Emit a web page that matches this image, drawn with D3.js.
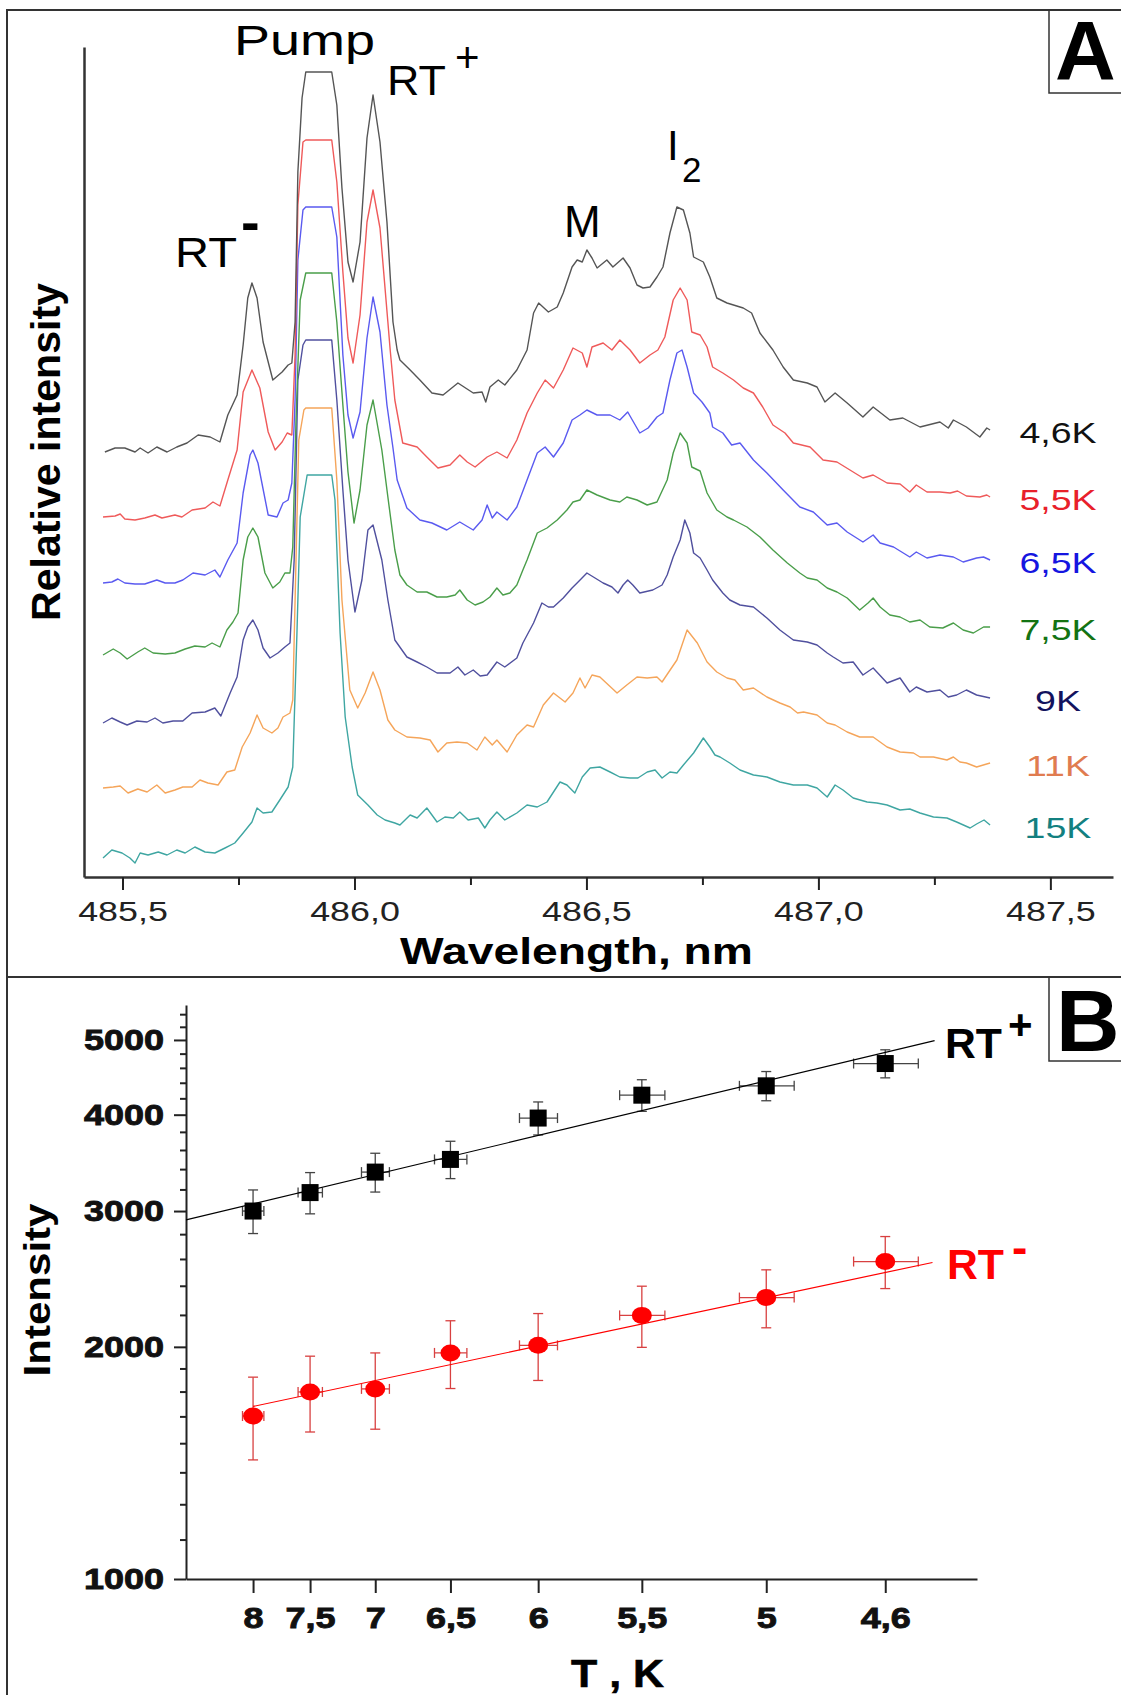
<!DOCTYPE html>
<html lang="en">
<head>
<meta charset="UTF-8">
<title>Raman spectra and RT intensity vs temperature</title>
<script src="https://d3js.org/d3.v7.min.js"></script>
<style>
  body { margin: 0; background: #fff; }
  svg text { font-family: "Liberation Sans", Arial, sans-serif; }
</style>
</head>
<body>
<svg id="fig" width="1121" height="1695"></svg>
<script>
// ---------- panel A: spectra, [wavelength nm, relative intensity a.u.] ----------
var spec46 = [[485.462,425],[485.484,429],[485.505,429],[485.527,425],[485.538,429],[485.555,424],[485.574,430],[485.596,425],[485.617,430],[485.639,434],[485.663,442],[485.689,440],[485.710,435],[485.727,462],[485.747,482],[485.760,532],[485.770,579],[485.779,594],[485.790,579],[485.803,535],[485.824,497],[485.844,505],[485.857,512],[485.865,514],[485.872,555],[485.878,705],[485.887,779],[485.895,805],[485.951,805],[485.962,772],[485.973,689],[485.986,615],[485.997,595],[486.012,635],[486.027,739],[486.040,782],[486.055,735],[486.070,655],[486.083,555],[486.092,527],[486.098,517],[486.120,507],[486.141,497],[486.167,484],[486.191,482],[486.223,494],[486.256,484],[486.275,485],[486.283,475],[486.292,490],[486.310,497],[486.324,492],[486.350,507],[486.372,527],[486.386,564],[486.397,574],[486.418,565],[486.437,570],[486.450,584],[486.469,610],[486.480,617],[486.491,615],[486.501,627],[486.512,619],[486.523,609],[486.544,617],[486.557,610],[486.579,619],[486.594,609],[486.609,592],[486.622,589],[486.637,590],[486.652,600],[486.665,610],[486.680,644],[486.695,670],[486.709,667],[486.723,644],[486.731,620],[486.752,615],[486.766,600],[486.781,579],[486.803,574],[486.838,569],[486.856,564],[486.874,544],[486.902,527],[486.924,510],[486.946,497],[486.976,494],[486.997,490],[487.014,475],[487.036,484],[487.062,474],[487.096,460],[487.118,470],[487.154,457],[487.182,459],[487.219,450],[487.262,455],[487.280,449],[487.291,457],[487.319,450],[487.348,440],[487.363,449],[487.370,447]];
var spec55 = [[485.458,360],[485.484,361],[485.495,363],[485.505,358],[485.527,357],[485.548,359],[485.570,362],[485.585,359],[485.613,362],[485.628,360],[485.650,367],[485.678,369],[485.695,375],[485.710,371],[485.727,397],[485.747,427],[485.760,485],[485.779,507],[485.796,489],[485.814,445],[485.829,427],[485.844,435],[485.855,444],[485.865,442],[485.872,522],[485.878,672],[485.889,735],[485.895,737],[485.951,737],[485.962,695],[485.975,605],[485.986,539],[485.997,514],[486.012,562],[486.027,655],[486.040,687],[486.055,649],[486.072,555],[486.077,527],[486.087,477],[486.104,434],[486.135,430],[486.156,420],[486.180,409],[486.206,412],[486.227,422],[486.243,415],[486.260,410],[486.286,420],[486.307,425],[486.329,419],[486.350,437],[486.372,464],[486.394,484],[486.411,497],[486.429,489],[486.450,507],[486.471,529],[486.491,524],[486.501,510],[486.512,530],[486.536,534],[486.555,527],[486.572,537],[486.594,527],[486.615,514],[486.637,522],[486.654,527],[486.669,540],[486.687,577],[486.702,589],[486.717,577],[486.727,545],[486.745,542],[486.760,530],[486.772,510],[486.794,504],[486.817,497],[486.838,489],[486.860,484],[486.880,470],[486.902,452],[486.928,444],[486.946,434],[486.982,430],[487.010,417],[487.040,415],[487.068,407],[487.096,399],[487.118,402],[487.148,394],[487.176,393],[487.197,385],[487.211,392],[487.234,385],[487.262,385],[487.284,384],[487.300,386],[487.319,381],[487.348,380],[487.363,382],[487.370,380]];
var spec65 = [[485.458,294],[485.477,295],[485.490,298],[485.505,294],[485.527,293],[485.548,293],[485.574,297],[485.592,294],[485.613,294],[485.630,297],[485.652,304],[485.678,302],[485.699,307],[485.710,300],[485.727,317],[485.747,334],[485.760,384],[485.775,422],[485.781,427],[485.792,414],[485.814,362],[485.833,360],[485.846,374],[485.857,377],[485.865,394],[485.872,477],[485.878,617],[485.889,667],[485.895,670],[485.951,670],[485.962,640],[485.975,522],[485.986,462],[485.997,439],[486.012,465],[486.027,539],[486.040,580],[486.055,545],[486.070,472],[486.083,429],[486.092,397],[486.113,369],[486.141,357],[486.167,354],[486.199,347],[486.227,355],[486.256,347],[486.275,357],[486.286,372],[486.297,359],[486.307,365],[486.329,357],[486.350,370],[486.372,397],[486.394,424],[486.411,430],[486.429,420],[486.450,434],[486.469,457],[486.486,462],[486.501,467],[486.523,462],[486.551,462],[486.572,457],[486.589,465],[486.615,444],[486.633,449],[486.652,460],[486.665,464],[486.680,497],[486.695,524],[486.706,527],[486.717,510],[486.731,484],[486.749,475],[486.766,464],[486.772,450],[486.794,444],[486.813,432],[486.831,434],[486.860,417],[486.889,404],[486.924,387],[486.960,370],[486.989,365],[487.019,352],[487.040,354],[487.062,345],[487.096,335],[487.118,342],[487.133,334],[487.162,330],[487.197,320],[487.211,325],[487.234,319],[487.262,322],[487.291,320],[487.312,315],[487.341,319],[487.356,320],[487.370,317]];
var spec75 = [[485.458,222],[485.480,228],[485.495,224],[485.510,218],[485.533,225],[485.548,229],[485.566,224],[485.592,223],[485.613,224],[485.635,228],[485.656,231],[485.678,230],[485.693,234],[485.710,230],[485.725,247],[485.738,255],[485.749,264],[485.760,317],[485.770,340],[485.781,349],[485.792,340],[485.807,304],[485.824,289],[485.839,295],[485.850,304],[485.861,304],[485.867,330],[485.874,457],[485.883,577],[485.895,604],[485.951,604],[485.962,555],[485.975,472],[485.986,405],[485.999,354],[486.012,387],[486.027,452],[486.040,477],[486.059,427],[486.072,380],[486.087,327],[486.098,302],[486.113,292],[486.135,285],[486.156,285],[486.178,280],[486.199,280],[486.217,282],[486.227,287],[486.243,277],[486.260,272],[486.277,275],[486.292,280],[486.307,289],[486.320,282],[486.335,284],[486.350,292],[486.363,307],[486.372,317],[486.394,344],[486.415,349],[486.437,357],[486.458,367],[486.471,375],[486.486,377],[486.501,387],[486.523,382],[486.551,377],[486.572,375],[486.587,380],[486.609,377],[486.631,372],[486.652,375],[486.674,397],[486.687,424],[486.702,444],[486.717,434],[486.727,410],[486.745,406],[486.760,384],[486.781,367],[486.803,360],[486.817,357],[486.846,350],[486.874,340],[486.902,327],[486.933,314],[486.960,304],[486.976,299],[486.997,297],[487.019,289],[487.040,285],[487.062,279],[487.089,267],[487.107,274],[487.118,279],[487.133,270],[487.154,262],[487.176,260],[487.197,255],[487.219,257],[487.240,250],[487.268,249],[487.291,254],[487.312,247],[487.334,244],[487.356,250],[487.370,250]];
var spec9 = [[485.458,154],[485.477,159],[485.495,155],[485.510,152],[485.531,156],[485.553,155],[485.570,159],[485.587,154],[485.609,156],[485.630,156],[485.650,164],[485.678,165],[485.699,169],[485.712,161],[485.732,184],[485.747,200],[485.760,237],[485.770,250],[485.781,257],[485.792,247],[485.803,229],[485.818,219],[485.835,224],[485.850,230],[485.861,234],[485.870,317],[485.878,497],[485.889,532],[485.895,537],[485.951,537],[485.962,477],[485.975,387],[485.986,317],[486.001,265],[486.016,297],[486.029,347],[486.040,352],[486.059,317],[486.072,277],[486.087,237],[486.113,220],[486.135,215],[486.156,210],[486.178,204],[486.206,204],[486.223,210],[486.238,202],[486.256,207],[486.271,201],[486.286,202],[486.307,215],[486.324,210],[486.350,219],[486.363,234],[486.386,254],[486.404,274],[486.418,270],[486.429,270],[486.450,279],[486.469,289],[486.482,295],[486.501,304],[486.515,300],[486.536,294],[486.555,290],[486.568,284],[486.579,292],[486.589,297],[486.600,292],[486.615,284],[486.643,287],[486.663,292],[486.674,302],[486.687,320],[486.702,337],[486.712,357],[486.723,344],[486.731,324],[486.745,319],[486.760,307],[486.772,297],[486.794,284],[486.809,277],[486.831,272],[486.860,270],[486.889,259],[486.917,247],[486.946,237],[486.976,235],[486.997,232],[487.019,224],[487.032,220],[487.053,214],[487.075,215],[487.096,202],[487.118,209],[487.148,194],[487.176,199],[487.197,185],[487.211,190],[487.234,185],[487.262,187],[487.280,180],[487.298,182],[487.319,187],[487.341,182],[487.370,179]];
var spec11 = [[485.458,89],[485.480,90],[485.495,91],[485.512,84],[485.533,88],[485.553,85],[485.574,92],[485.592,84],[485.613,87],[485.630,90],[485.650,90],[485.667,97],[485.684,94],[485.706,92],[485.725,105],[485.742,107],[485.758,130],[485.775,144],[485.790,162],[485.803,149],[485.822,144],[485.835,149],[485.846,160],[485.861,164],[485.867,177],[485.874,317],[485.880,437],[485.891,467],[485.895,469],[485.951,469],[485.962,397],[485.973,277],[485.990,187],[486.007,169],[486.023,184],[486.040,205],[486.055,187],[486.072,157],[486.087,147],[486.113,140],[486.141,139],[486.163,137],[486.180,125],[486.199,134],[486.221,135],[486.243,134],[486.264,127],[486.281,140],[486.297,132],[486.307,137],[486.329,125],[486.350,142],[486.372,152],[486.386,150],[486.407,172],[486.429,184],[486.454,175],[486.471,184],[486.486,199],[486.497,189],[486.512,202],[486.529,200],[486.566,184],[486.587,192],[486.609,200],[486.631,199],[486.652,200],[486.663,195],[486.676,204],[486.695,217],[486.717,247],[486.739,234],[486.760,215],[486.781,205],[486.803,199],[486.820,197],[486.838,187],[486.860,189],[486.889,180],[486.917,174],[486.939,170],[486.955,164],[486.968,165],[486.997,162],[487.019,154],[487.036,152],[487.062,145],[487.089,140],[487.118,140],[487.148,130],[487.176,125],[487.205,124],[487.219,120],[487.248,120],[487.277,117],[487.291,120],[487.305,115],[487.319,114],[487.341,110],[487.370,114]];
var spec15 = [[485.458,19],[485.477,27],[485.499,24],[485.516,19],[485.527,14],[485.538,24],[485.555,22],[485.577,25],[485.596,22],[485.617,27],[485.635,24],[485.656,30],[485.678,25],[485.699,24],[485.721,29],[485.742,34],[485.760,44],[485.779,55],[485.790,69],[485.803,64],[485.822,65],[485.839,77],[485.857,90],[485.867,110],[485.876,244],[485.883,360],[485.898,402],[485.951,402],[485.958,377],[485.969,244],[485.980,160],[485.995,110],[486.007,82],[486.029,72],[486.049,62],[486.066,57],[486.087,54],[486.098,52],[486.120,62],[486.135,59],[486.156,69],[486.178,55],[486.195,60],[486.213,59],[486.227,65],[486.245,57],[486.267,59],[486.281,49],[486.292,57],[486.307,65],[486.324,57],[486.350,64],[486.372,72],[486.394,70],[486.415,75],[486.443,95],[486.458,92],[486.475,84],[486.491,100],[486.508,109],[486.529,110],[486.551,105],[486.572,100],[486.594,99],[486.611,99],[486.631,105],[486.648,107],[486.663,99],[486.680,105],[486.695,104],[486.709,112],[486.731,124],[486.752,139],[486.766,130],[486.777,122],[486.788,120],[486.809,114],[486.831,107],[486.860,102],[486.889,100],[486.917,95],[486.946,92],[486.976,92],[486.997,89],[487.019,80],[487.036,92],[487.053,87],[487.075,79],[487.105,75],[487.126,74],[487.148,72],[487.176,67],[487.197,68],[487.219,64],[487.248,60],[487.277,59],[487.298,55],[487.327,49],[487.341,53],[487.357,57],[487.370,52]];

var spectra = [spec46, spec55, spec65, spec75, spec9, spec11, spec15];
var specLabels = ["4,6K", "5,5K", "6,5K", "7,5K", "9K", "11K", "15K"];
var lineColors = ["#555555", "#ef5a5a", "#5a5af0", "#4a9e4a", "#50509e", "#f5a55a", "#3fa6a2"];
var labelColors = ["#111111", "#e8202a", "#1515e0", "#137313", "#13135e", "#e07c50", "#138080"];
var wlTicks = [485.5, 486.0, 486.5, 487.0, 487.5];
var wlMinor = [485.75, 486.25, 486.75, 487.25];

// ---------- panel B: RT intensities vs temperature ----------
var temps = [8, 7.5, 7, 6.5, 6, 5.5, 5, 4.6];
var tErr = [0.1, 0.1, 0.1, 0.1, 0.1, 0.1, 0.1, 0.1];
var rtPlus = [3000, 3170, 3370, 3500, 3960, 4240, 4360, 4660];
var rtPlusErr = [195, 195, 195, 195, 195, 200, 190, 195];
var rtMinus = [1627, 1748, 1764, 1964, 2009, 2197, 2317, 2580];
var rtMinusErr = [200, 197, 200, 198, 200, 200, 200, 200];
// fitted lines, [1/T, intensity] end points
var fitPlus = [[0.1152, 2922], [0.2246, 4991]];
var fitMinus = [[0.125, 1674], [0.2243, 2573]];
var intTicks = [1000, 2000, 3000, 4000, 5000];

var svg = d3.select("#fig");

function stretch(sel, k) {
  sel.each(function () {
    var w = this.getComputedTextLength();
    d3.select(this).attr("textLength", w * k).attr("lengthAdjust", "spacingAndGlyphs");
  });
}
function txt(x, y, s, size, opts) {
  opts = opts || {};
  var t = svg.append("text").attr("x", x).attr("y", y).text(s)
    .attr("font-size", size)
    .attr("font-weight", opts.bold ? "bold" : "normal")
    .attr("fill", opts.color || "#000")
    .attr("text-anchor", opts.anchor || "start");
  if (opts.rotate) t.attr("transform", "rotate(-90," + x + "," + y + ")");
  if (opts.len) t.attr("textLength", opts.len).attr("lengthAdjust", "spacingAndGlyphs");
  if (opts.heavy) t.attr("stroke", opts.color || "#000").attr("stroke-width", opts.heavy);
  return t;
}

// frame, divider and panel letter boxes
svg.append("rect").attr("x", 7).attr("y", 10).attr("width", 1130).attr("height", 1700)
  .attr("fill", "none").attr("stroke", "#333").attr("stroke-width", 2);
svg.append("line").attr("x1", 7).attr("x2", 1121).attr("y1", 977).attr("y2", 977)
  .attr("stroke", "#333").attr("stroke-width", 2);
svg.append("rect").attr("x", 1049).attr("y", 10).attr("width", 90).attr("height", 83)
  .attr("fill", "none").attr("stroke", "#333").attr("stroke-width", 1.5);
svg.append("rect").attr("x", 1049).attr("y", 977).attr("width", 90).attr("height", 84)
  .attr("fill", "none").attr("stroke", "#333").attr("stroke-width", 1.5);
txt(1055, 80, "A", 84, { bold: true });
txt(1056, 1051, "B", 88, { bold: true });

// ---------- panel A ----------
var xA = d3.scaleLinear().domain([485.417, 487.635]).range([84, 1113]);
var yA = d3.scaleLinear().domain([0, 830]).range([877, 47]);

var axA = svg.append("g").attr("transform", "translate(0,877)")
  .call(d3.axisBottom(xA).tickValues(wlTicks).tickSize(13).tickSizeOuter(0).tickPadding(11)
    .tickFormat(function (d) { return d3.format(".1f")(d).replace(".", ","); }));
svg.append("g").attr("transform", "translate(0,877)")
  .call(d3.axisBottom(xA).tickValues(wlMinor).tickSize(8).tickFormat(""))
  .select(".domain").remove();
var ayA = svg.append("g").attr("transform", "translate(84,0)")
  .call(d3.axisLeft(yA).tickValues([]).tickSizeOuter(0));
svg.selectAll(".domain").attr("stroke", "#333").attr("stroke-width", 2.5);
svg.selectAll(".tick line").attr("stroke", "#333").attr("stroke-width", 2.2);
axA.selectAll("text").attr("font-size", 28).attr("fill", "#222")
  .attr("font-family", '"Liberation Sans", Arial, sans-serif').call(stretch, 1.28);

var lineA = d3.line().x(function (d) { return xA(d[0]); }).y(function (d) { return yA(d[1]); });
var gA = svg.append("g");
for (var i = spectra.length - 1; i >= 0; i--) {
  gA.append("path").datum(spectra[i]).attr("d", lineA)
    .attr("fill", "none").attr("stroke", lineColors[i]).attr("stroke-width", 1.4)
    .attr("stroke-linejoin", "round");
}
gA.selectAll("text.lab").data(spectra).join("text").attr("class", "lab")
  .attr("x", 1058)
  .attr("y", function (d) { return yA(d[d.length - 1][1]) + 13; })
  .attr("text-anchor", "middle").attr("font-size", 30)
  .attr("fill", function (d, i) { return labelColors[i]; })
  .text(function (d, i) { return specLabels[i]; })
  .call(stretch, 1.25);

txt(234, 55, "Pump", 42, { len: 141 });
txt(387, 95, "RT", 42, { len: 59 });
txt(455, 72, "+", 42);
txt(175, 267, "RT", 42, { len: 62 });
txt(241, 241, "-", 56, { bold: true });
txt(564, 237, "M", 44);
txt(667, 160, "I", 42);
txt(682, 182, "2", 35);
txt(400, 964, "Wavelength, nm", 37, { bold: true, len: 353 });
txt(60, 452, "Relative intensity", 41, { bold: true, anchor: "middle", rotate: true, len: 338 });

// ---------- panel B ----------
var xB = d3.scaleLinear().domain([0.1152, 0.2308]).range([186, 977]);
var yB = d3.scaleLog().domain([1000, 5550]).range([1579, 1005]);
var intMinor = d3.range(1125, 2000, 125).concat(d3.range(2200, 3000, 200),
  d3.range(3200, 4000, 200), d3.range(4200, 5000, 200), d3.range(5200, 5550, 200));

var axB = svg.append("g").attr("transform", "translate(0,1579)")
  .call(d3.axisBottom(xB).tickValues(temps.map(function (t) { return 1 / t; }))
    .tickSize(14).tickSizeOuter(0).tickPadding(14)
    .tickFormat(function (d) { return String(+(1 / d).toFixed(1)).replace(".", ","); }));
var ayB = svg.append("g").attr("transform", "translate(186,0)")
  .call(d3.axisLeft(yB).tickValues(intTicks).tickSize(12).tickSizeOuter(0).tickPadding(10)
    .tickFormat(d3.format("d")));
svg.append("g").attr("transform", "translate(186,0)")
  .call(d3.axisLeft(yB).tickValues(intMinor).tickSize(6).tickFormat(""))
  .select(".domain").remove();
[axB, ayB].forEach(function (a) {
  a.select(".domain").attr("stroke", "#222").attr("stroke-width", 2);
  a.selectAll("text").attr("font-size", 30).attr("font-weight", "bold").attr("fill", "#111")
    .attr("stroke", "#111").attr("stroke-width", 0.9)
    .attr("font-family", '"Liberation Sans", Arial, sans-serif').call(stretch, 1.2);
});
svg.selectAll(".tick line").attr("stroke", "#222").attr("stroke-width", 2);

function drawRT(vals, errs, fit, color, barColor, square) {
  var g = svg.append("g");
  var pts = temps.map(function (t, i) {
    return { x: xB(1 / t), y: yB(vals[i]), lo: yB(vals[i] - errs[i]), hi: yB(vals[i] + errs[i]),
      left: xB(1 / (t + tErr[i])), right: xB(1 / (t - tErr[i])) };
  });
  var segs = [];
  pts.forEach(function (p) {
    segs.push([p.x, p.lo, p.x, p.hi], [p.x - 5, p.lo, p.x + 5, p.lo], [p.x - 5, p.hi, p.x + 5, p.hi],
      [p.left, p.y, p.right, p.y], [p.left, p.y - 5, p.left, p.y + 5], [p.right, p.y - 5, p.right, p.y + 5]);
  });
  g.selectAll("line.err").data(segs).join("line").attr("class", "err")
    .attr("x1", function (d) { return d[0]; }).attr("y1", function (d) { return d[1]; })
    .attr("x2", function (d) { return d[2]; }).attr("y2", function (d) { return d[3]; })
    .attr("stroke", barColor).attr("stroke-width", 1.3);
  g.append("path").datum(fit)
    .attr("d", d3.line().x(function (d) { return xB(d[0]); }).y(function (d) { return yB(d[1]); }))
    .attr("stroke", color).attr("stroke-width", 1.2).attr("fill", "none");
  if (square) {
    g.selectAll("rect").data(pts).join("rect")
      .attr("x", function (d) { return d.x - 8.5; }).attr("y", function (d) { return d.y - 8.5; })
      .attr("width", 17).attr("height", 17).attr("fill", color);
  } else {
    g.selectAll("ellipse").data(pts).join("ellipse")
      .attr("cx", function (d) { return d.x; }).attr("cy", function (d) { return d.y; })
      .attr("rx", 10).attr("ry", 8.5).attr("fill", color);
  }
}
drawRT(rtPlus, rtPlusErr, fitPlus, "#000", "#444", true);
drawRT(rtMinus, rtMinusErr, fitMinus, "#ff0000", "#d84040", false);

txt(945, 1058, "RT", 42, { bold: true, len: 57 });
txt(1008, 1039, "+", 42, { bold: true });
txt(947, 1279, "RT", 42, { bold: true, len: 57, color: "#ff0000" });
txt(1012, 1263, "-", 46, { bold: true, color: "#ff0000" });
txt(50, 1290, "Intensity", 37, { bold: true, anchor: "middle", rotate: true, len: 173 });
txt(571, 1687, "T , K", 39, { bold: true, len: 93, heavy: 0.6 });
</script>
</body>
</html>
